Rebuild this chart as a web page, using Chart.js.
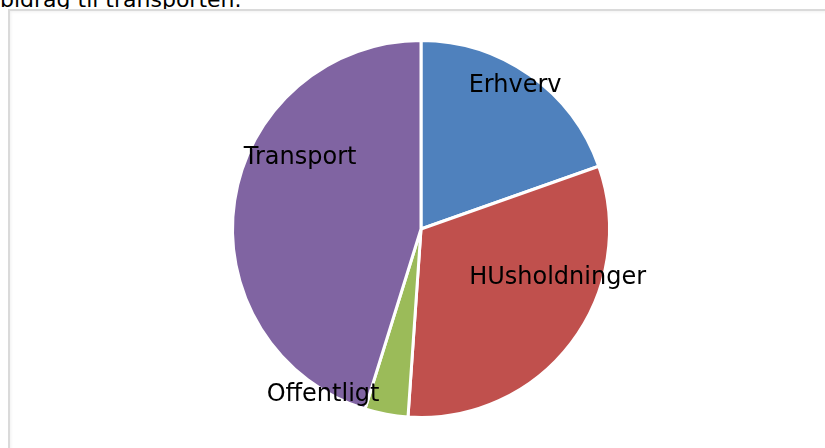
<!DOCTYPE html>
<html>
<head>
<meta charset="utf-8">
<script src="https://cdn.jsdelivr.net/npm/chart.js@4"></script>
<style>
    body { margin: 0; background: #fff; overflow: hidden; width: 825px; height: 448px; position: relative; }
    .intro { position: absolute; left: 0; top: -11px; font: 22px "DejaVu Sans", Verdana, sans-serif; line-height: 22px; color: #000; white-space: nowrap; }
    .frame { position: absolute; left: 8px; top: 9px; width: 840px; height: 470px; border: 2px solid #dadada; box-shadow: inset 1px 1px 3px rgba(0,0,0,0.06); }
    #pie { position: absolute; left: 0; top: 0; }
</style>
</head>
<body>
<div class="intro">bidrag til transporten.</div>
<div class="frame"></div>
<canvas id="pie" width="825" height="448"></canvas>
<script>
const categories = ['Erhverv', 'HUsholdninger', 'Offentligt', 'Transport'];
const shares = [19.6, 31.5, 3.7, 45.2];
const sliceColors = ['#4F81BD', '#C0504D', '#9BBB59', '#8064A2'];

// where each label sits: degrees off the slice's middle, and fraction of the radius
const labelTurn = [-2, -17.5, 20, 22];
const labelReach = [0.91, 0.77, 1.02, 0.745];

const sliceLabels = {
    id: 'sliceLabels',
    afterDatasetsDraw(chart) {
        const ctx = chart.ctx;
        const arcs = chart.getDatasetMeta(0).data;
        ctx.save();
        ctx.font = '24px "DejaVu Sans", Verdana, sans-serif';
        ctx.fillStyle = '#000';
        ctx.textAlign = 'center';
        ctx.textBaseline = 'middle';
        arcs.forEach((arc, i) => {
            const p = arc.getProps(['x', 'y', 'startAngle', 'endAngle', 'outerRadius'], true);
            const mid = (p.startAngle + p.endAngle) / 2 + labelTurn[i] * Math.PI / 180;
            const r = p.outerRadius * labelReach[i];
            ctx.fillText(categories[i], p.x + Math.cos(mid) * r, p.y + Math.sin(mid) * r);
        });
        ctx.restore();
    }
};

new Chart(document.getElementById('pie').getContext('2d'), {
    type: 'pie',
    data: {
        labels: categories,
        datasets: [{
            data: shares,
            backgroundColor: sliceColors,
            borderColor: '#fff',
            borderWidth: 3,
            hoverOffset: 0
        }]
    },
    options: {
        responsive: false,
        animation: false,
        layout: { padding: { left: 231, right: 214, top: 39, bottom: 29 } },
        plugins: {
            legend: { display: false },
            tooltip: { enabled: false }
        }
    },
    plugins: [sliceLabels]
});
</script>
</body>
</html>
